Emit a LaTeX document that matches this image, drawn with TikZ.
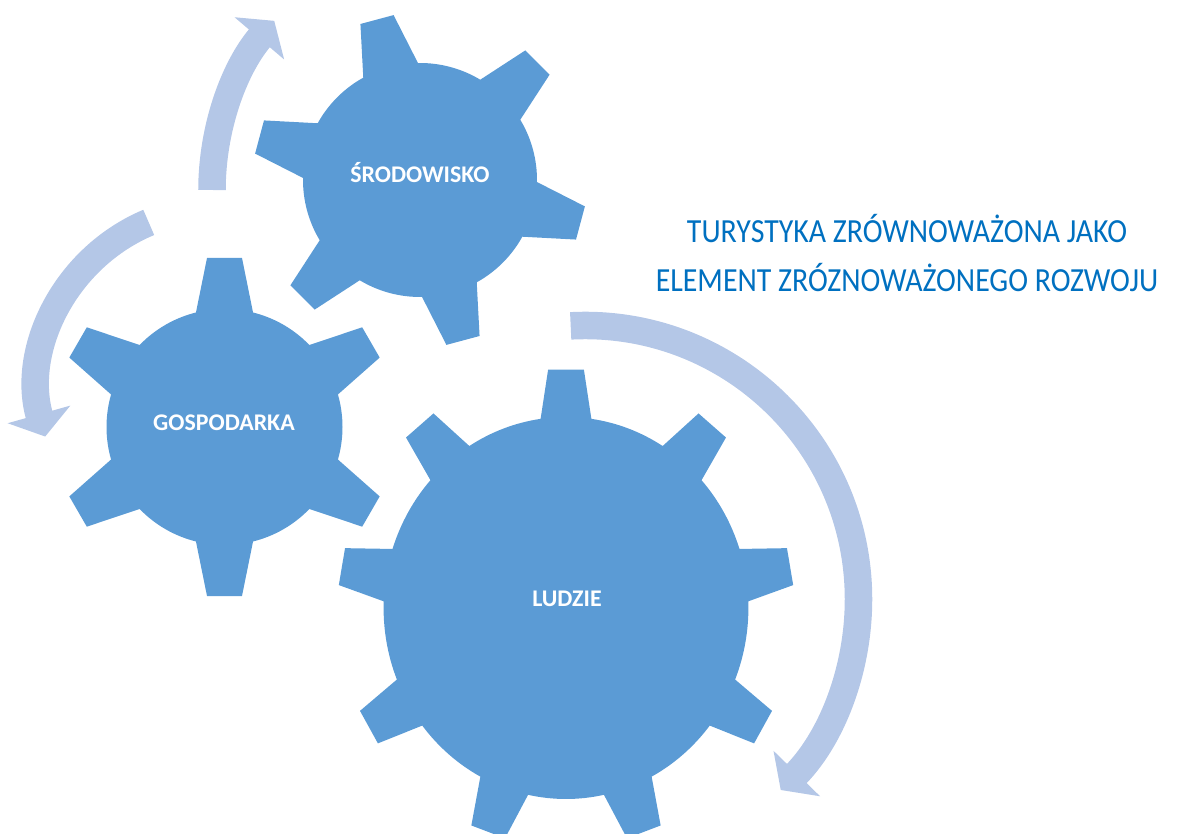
\documentclass[tikz,border=0pt]{standalone}
\usepackage{fontspec}
\setmainfont{Carlito}
\newfontfamily\titlefont[FakeStretch=0.885]{Carlito}
\usetikzlibrary{arrows.meta,calc}
\definecolor{gearblue}{HTML}{5B9BD5}
\definecolor{arrowblue}{HTML}{B4C7E7}
\definecolor{titleblue}{HTML}{0070C0}
\def\gear[#1](#2)(#3:#4:#5:#6:#7:#8){%
	\pgfmathsetmacro{\gstep}{360/#3}%
	\fill[gearblue,shift={(#2)},#1] ({#4-#7}:#5)
		\foreach \k [evaluate=\k as \ga using {#4+(\k-1)*\gstep}] in {1,...,#3}{
			-- ({\ga-#8}:#6) -- ({\ga+#8}:#6) -- ({\ga+#7}:#5)
			arc[start angle={\ga+#7}, end angle={\ga+\gstep-#7}, radius=#5]
		} -- cycle;}
\tikzset{
	cyclearrow/.style={draw=arrowblue, line width=0.6875cm, -{Triangle[length=0.575cm,width=1.6cm,fill=arrowblue]}},
	geartext/.style={text=white, font=\fontsize{17}{20}\selectfont\bfseries, anchor=base},
	titletext/.style={text=titleblue, font=\titlefont\fontsize{24}{29}\selectfont, anchor=base}
}

\begin{document}
\begin{tikzpicture}[x=0.025cm, y=0.025cm]
		%%%%% START %%%%%
		\useasboundingbox (0, 0) rectangle (1193, 834);
		
		\coordinate (gearS) at (420, 654);
		\coordinate (gearG) at (224.5, 407);
		\coordinate (gearL) at (566, 226);
		
		\coordinate (topArrowC) at (473, 644);
		\coordinate (leftArrowC) at (218, 446);
		\coordinate (bigArrowC) at (585, 235);
		
		\draw[cyclearrow] ($(topArrowC)+(180:261)$) arc[start angle=180, end angle=139.6, radius=261];
		\draw[cyclearrow] ($(leftArrowC)+(112.7:179.5)$) arc[start angle=112.7, end angle=195.7, radius=179.5];
		\draw[cyclearrow] ($(bigArrowC)+(93:273.5)$) arc[start angle=93, end angle=-44.3, radius=273.5];
		
		\gear[](gearS)(6:105:117:167:14:5.9);
		\gear[](gearG)(6:30:118:170:14:5.9);
		\gear[xscale=0.955](gearL)(9:10:191:239:8:4.5);
		
		\node[geartext] (srodowisko) at (420, 651) {ŚRODOWISKO};
		\node[geartext] (gospodarka) at (224, 403) {GOSPODARKA};
		\node[geartext] (ludzie) at (567, 227) {LUDZIE};
		
		\node[titletext] (title1) at (907, 591) {TURYSTYKA ZRÓWNOWAŻONA JAKO};
		\node[titletext] (title2) at (907, 542) {ELEMENT ZRÓZNOWAŻONEGO ROZWOJU};
		%%%%% END %%%%%
\end{tikzpicture}
\end{document}
